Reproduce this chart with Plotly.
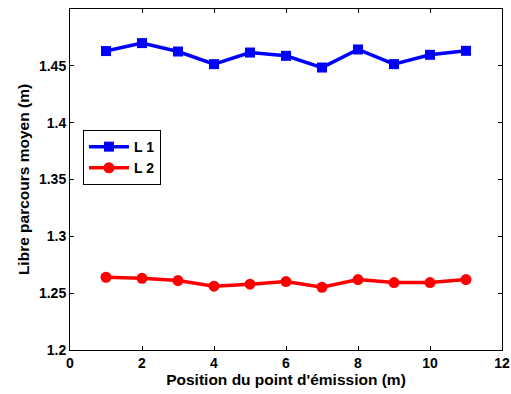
import plotly.graph_objects as go

positions = [1, 2, 3, 4, 5, 6, 7, 8, 9, 10, 11]
l1 = [1.463, 1.470, 1.4626, 1.4515, 1.4617, 1.4588, 1.4485, 1.4644, 1.4515, 1.4597, 1.4632]
l2 = [1.264, 1.2631, 1.2611, 1.2561, 1.2579, 1.2602, 1.2552, 1.262, 1.2593, 1.2593, 1.262]
x_ticks = [0, 2, 4, 6, 8, 10, 12]
y_ticks = [1.2, 1.25, 1.3, 1.35, 1.4, 1.45]
y_tick_labels = ["1.2", "1.25", "1.3", "1.35", "1.4", "1.45"]

font = "Liberation Sans, Arial, sans-serif"

fig = go.Figure()
fig.add_trace(go.Scatter(x=positions, y=l1, name="L 1", mode="lines+markers",
                         line=dict(color="#0000ff", width=3.5),
                         marker=dict(symbol="square", size=10, color="#0000ff")))
fig.add_trace(go.Scatter(x=positions, y=l2, name="L 2", mode="lines+markers",
                         line=dict(color="#ff0000", width=3.5),
                         marker=dict(symbol="circle", size=11, color="#ff0000")))

axis_common = dict(showgrid=False, zeroline=False, showline=True, linecolor="black",
                   linewidth=1, mirror="ticks", ticks="inside", ticklen=4,
                   tickcolor="black", automargin=False,
                   tickfont=dict(family=font, size=14, color="black", weight="bold"))

fig.update_layout(
    width=511, height=394,
    margin=dict(l=70, r=9, t=9, b=44),
    paper_bgcolor="white", plot_bgcolor="white",
    font=dict(family=font, color="black"),
    xaxis=dict(range=[0, 12], tickvals=x_ticks,
               title=dict(text="<b>Position du point d'émission (m)</b>",
                          font=dict(family=font, size=15.5), standoff=0),
               **axis_common),
    yaxis=dict(range=[1.2, 1.5], tickvals=y_ticks, ticktext=y_tick_labels,
               title=dict(text="<b>Libre parcours moyen (m)</b>",
                          font=dict(family=font, size=15.5), standoff=5),
               **axis_common),
    legend=dict(x=0.03, y=0.645, xanchor="left", yanchor="top",
                bordercolor="black", borderwidth=1, bgcolor="white",
                font=dict(family=font, size=14, color="black", weight="bold"),
                tracegroupgap=0, itemwidth=40),
    showlegend=True,
)

fig.write_html("out.html")
